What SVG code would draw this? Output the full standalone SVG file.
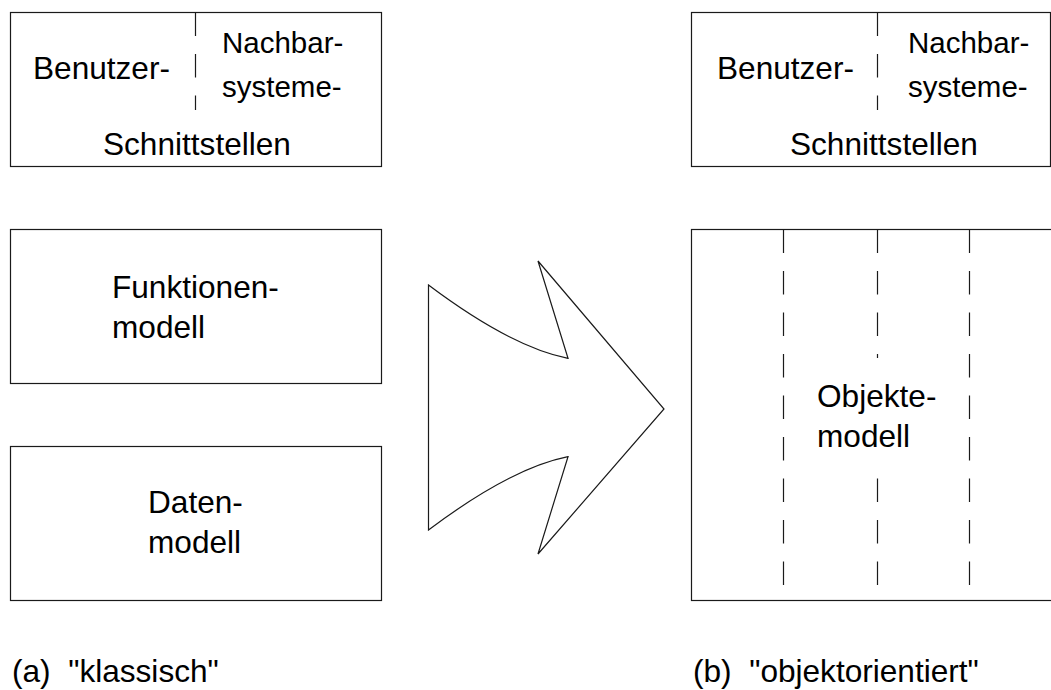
<svg xmlns="http://www.w3.org/2000/svg" width="1051" height="690" viewBox="0 0 1051 690">
  <style>
    .box { fill: none; stroke: #1a1a1a; stroke-width: 1.2; }
    .dash { fill: none; stroke: #1a1a1a; stroke-width: 1.2; stroke-dasharray: 23.5 18; }
    .lbl { font-family: "Liberation Sans", Arial, sans-serif; font-size: 31.6px; fill: #000; }
    .sm { font-size: 29.5px; }
    .arrow { fill: #fff; stroke: #1a1a1a; stroke-width: 1.2; stroke-linejoin: miter; }
  </style>
  <rect width="1051" height="690" fill="#fff"/>

  <g id="schnittstellen-a">
    <rect class="box" x="10.5" y="12.5" width="371" height="154"/>
    <line class="dash" x1="195.5" y1="12.5" x2="195.5" y2="110"/>
    <text class="lbl" x="33" y="79">Benutzer-</text>
    <text class="lbl sm" x="222" y="53">Nachbar-</text>
    <text class="lbl sm" x="222" y="97">systeme-</text>
    <text class="lbl" x="103" y="155">Schnittstellen</text>
  </g>

  <g id="funktionenmodell">
    <rect class="box" x="10.5" y="229.5" width="371" height="154"/>
    <text class="lbl" x="112" y="298">Funktionen-</text>
    <text class="lbl" x="112" y="338">modell</text>
  </g>

  <g id="datenmodell">
    <rect class="box" x="10.5" y="446.5" width="371" height="154"/>
    <text class="lbl" x="148" y="513">Daten-</text>
    <text class="lbl" x="148" y="553">modell</text>
  </g>

  <g id="uebergang">
    <path class="arrow" d="M428.5,285 Q511,347 568,358.3 L538,261 L664,409 L538,554 L568,456.7 Q511,468 428.5,530 Z"/>
  </g>

  <g id="schnittstellen-b">
    <rect class="box" x="691.5" y="12.5" width="359" height="154"/>
    <line class="dash" x1="877.5" y1="12.5" x2="877.5" y2="110"/>
    <text class="lbl" x="717" y="79">Benutzer-</text>
    <text class="lbl sm" x="908" y="53">Nachbar-</text>
    <text class="lbl sm" x="908" y="97">systeme-</text>
    <text class="lbl" x="790" y="155">Schnittstellen</text>
  </g>

  <g id="objektemodell">
    <rect class="box" x="691.5" y="229.5" width="380" height="371"/>
    <line class="dash" x1="783.5" y1="229.5" x2="783.5" y2="600"/>
    <line class="dash" x1="877.5" y1="229.5" x2="877.5" y2="600"/>
    <line class="dash" x1="969.5" y1="229.5" x2="969.5" y2="600"/>
    <rect x="812" y="358" width="130" height="110" fill="#fff"/>
    <text class="lbl" x="817" y="407">Objekte-</text>
    <text class="lbl" x="817" y="447">modell</text>
  </g>

  <g id="connectors"></g>

  <g id="captions">
    <text class="lbl" x="12" y="682" xml:space="preserve">(a)  "klassisch"</text>
    <text class="lbl" x="693" y="682" xml:space="preserve">(b)  "objektorientiert"</text>
  </g>
</svg>
